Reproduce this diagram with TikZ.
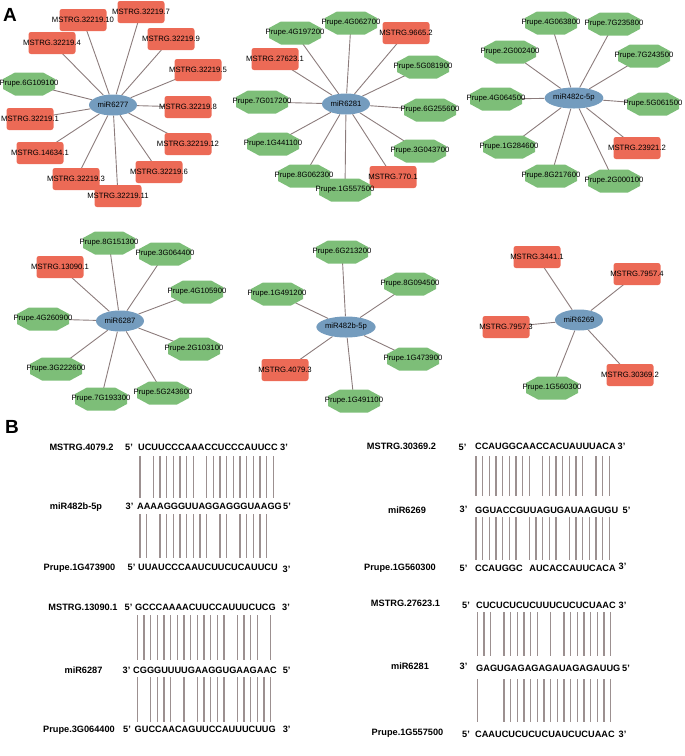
\documentclass[tikz,border=0pt]{standalone}
\usepackage{fontspec}
\setmainfont{Liberation Sans}
\usepackage{xcolor}
\definecolor{hubblue}{RGB}{116,156,190}
\definecolor{lncred}{RGB}{236,106,86}
\definecolor{genegreen}{RGB}{125,190,120}
\definecolor{linkgray}{RGB}{140,124,124}
\definecolor{pairgray}{RGB}{156,144,144}
\usepackage{tikz}
\usetikzlibrary{shapes.geometric, backgrounds}
\newcommand{\lbl}[1]{\makebox[0pt]{#1}}
\newcommand{\netfont}{\fontsize{7.7}{8}\selectfont}
\newcommand{\seqfont}{\fontsize{9.2}{10}\selectfont\bfseries}

\begin{document}
\begin{tikzpicture}[x=1pt, y=-1pt,
    hub/.style={ellipse, fill=hubblue, minimum width=48pt, minimum height=21pt, inner sep=0pt, font=\netfont},
    lnc/.style={rectangle, rounded corners=2.5pt, fill=lncred, minimum width=47pt, minimum height=22pt, inner sep=0pt, font=\netfont},
    gene/.style={rectangle, minimum width=52pt, minimum height=23pt, inner sep=0pt, font=\netfont,
        path picture={\fill[genegreen]
            ([xshift=12pt]path picture bounding box.north west) -- ([xshift=-12pt]path picture bounding box.north east)
            -- ([yshift=-6.5pt]path picture bounding box.north east) -- ([yshift=6.5pt]path picture bounding box.south east)
            -- ([xshift=-12pt]path picture bounding box.south east) -- ([xshift=12pt]path picture bounding box.south west)
            -- ([yshift=6.5pt]path picture bounding box.south west) -- ([yshift=-6.5pt]path picture bounding box.north west) -- cycle;}},
    link/.style={linkgray, line width=0.9pt},
    pair/.style={pairgray, line width=1.5pt},
    seq/.style={font=\seqfont, inner sep=0pt, text height=6.6pt, text depth=0pt, anchor=west},
    tag/.style={font=\seqfont, inner sep=0pt, text height=6.6pt, text depth=0pt},
    panel/.style={font=\fontsize{19}{20}\selectfont\bfseries, inner sep=0pt}]
    \useasboundingbox (0,0) rectangle (685,756);

    \node[panel] (pa) at (10,15) {A};

    % miR6277
    \node[hub] (m6277) at (113,105) {miR6277};
    \node[lnc] (s32219-10) at (83,20) {\lbl{MSTRG.32219.10}};
    \node[lnc] (s32219-7) at (141,12) {\lbl{MSTRG.32219.7}};
    \node[lnc] (s32219-4) at (52,43) {\lbl{MSTRG.32219.4}};
    \node[lnc] (s32219-9) at (171,39) {\lbl{MSTRG.32219.9}};
    \node[lnc] (s32219-5) at (198,70) {\lbl{MSTRG.32219.5}};
    \node[gene] (p6g109100) at (29,84) {\lbl{Prupe.6G109100}};
    \node[lnc] (s32219-8) at (188,107) {\lbl{MSTRG.32219.8}};
    \node[lnc] (s32219-1) at (30,119) {\lbl{MSTRG.32219.1}};
    \node[lnc] (s32219-12) at (188,144) {\lbl{MSTRG.32219.12}};
    \node[lnc] (s14634-1) at (40,153) {\lbl{MSTRG.14634.1}};
    \node[lnc] (s32219-6) at (159,172) {\lbl{MSTRG.32219.6}};
    \node[lnc] (s32219-3) at (76,179) {\lbl{MSTRG.32219.3}};
    \node[lnc] (s32219-11) at (118,196) {\lbl{MSTRG.32219.11}};

    % miR6281
    \node[hub] (m6281) at (346,104) {miR6281};
    \node[gene] (p4g197200) at (295,33) {\lbl{Prupe.4G197200}};
    \node[gene] (p4g062700) at (351,23) {\lbl{Prupe.4G062700}};
    \node[lnc] (s9665-2) at (406,33) {\lbl{MSTRG.9665.2}};
    \node[lnc] (s27623-1) at (275,59) {\lbl{MSTRG.27623.1}};
    \node[gene] (p5g081900) at (423,67) {\lbl{Prupe.5G081900}};
    \node[gene] (p7g017200) at (262,102) {\lbl{Prupe.7G017200}};
    \node[gene] (p6g255600) at (430,110) {\lbl{Prupe.6G255600}};
    \node[gene] (p1g441100) at (273,144) {\lbl{Prupe.1G441100}};
    \node[gene] (p3g043700) at (420,151) {\lbl{Prupe.3G043700}};
    \node[gene] (p8g062300) at (304,176) {\lbl{Prupe.8G062300}};
    \node[lnc] (s770-1) at (393,177) {\lbl{MSTRG.770.1}};
    \node[gene] (p1g557500) at (345,190) {\lbl{Prupe.1G557500}};

    % miR482c-5p
    \node[hub] (m482c) at (574,98) {miR482c-5p};
    \node[gene] (p4g063800) at (551,23) {\lbl{Prupe.4G063800}};
    \node[gene] (p7g235800) at (614,24) {\lbl{Prupe.7G235800}};
    \node[gene] (p2g002400) at (510,52) {\lbl{Prupe.2G002400}};
    \node[gene] (p7g243500) at (644,56) {\lbl{Prupe.7G243500}};
    \node[gene] (p4g064500) at (496,99) {\lbl{Prupe.4G064500}};
    \node[gene] (p5g061500) at (653,104) {\lbl{Prupe.5G061500}};
    \node[gene] (p1g284600) at (509,147) {\lbl{Prupe.1G284600}};
    \node[lnc] (s23921-2) at (637,148) {\lbl{MSTRG.23921.2}};
    \node[gene] (p8g217600) at (551,176) {\lbl{Prupe.8G217600}};
    \node[gene] (p2g000100) at (614,181) {\lbl{Prupe.2G000100}};

    % miR6287
    \node[hub] (m6287) at (120,321) {miR6287};
    \node[gene] (p8g151300) at (109,243) {\lbl{Prupe.8G151300}};
    \node[lnc] (s13090-1) at (60,267) {\lbl{MSTRG.13090.1}};
    \node[gene] (p3g064400) at (165,254) {\lbl{Prupe.3G064400}};
    \node[gene] (p4g105900) at (197,292) {\lbl{Prupe.4G105900}};
    \node[gene] (p4g260900) at (43,319) {\lbl{Prupe.4G260900}};
    \node[gene] (p2g103100) at (194,349) {\lbl{Prupe.2G103100}};
    \node[gene] (p3g222600) at (56,369) {\lbl{Prupe.3G222600}};
    \node[gene] (p5g243600) at (163,393) {\lbl{Prupe.5G243600}};
    \node[gene] (p7g193300) at (101,399) {\lbl{Prupe.7G193300}};

    % miR482b-5p
    \node[hub] (m482b) at (346,327) {miR482b-5p};
    \node[gene] (p6g213200) at (342,252) {\lbl{Prupe.6G213200}};
    \node[gene] (p1g491200) at (277,294) {\lbl{Prupe.1G491200}};
    \node[gene] (p8g094500) at (410,284) {\lbl{Prupe.8G094500}};
    \node[gene] (p1g473900) at (413,359) {\lbl{Prupe.1G473900}};
    \node[lnc] (s4079-3) at (285,370) {\lbl{MSTRG.4079.3}};
    \node[gene] (p1g491100) at (354,401) {\lbl{Prupe.1G491100}};

    % miR6269
    \node[hub] (m6269) at (579,320) {miR6269};
    \node[lnc] (s3441-1) at (537,257) {\lbl{MSTRG.3441.1}};
    \node[lnc] (s7957-4) at (637,274) {\lbl{MSTRG.7957.4}};
    \node[lnc] (s7957-3) at (506,327) {\lbl{MSTRG.7957.3}};
    \node[lnc] (s30369-2) at (630,375) {\lbl{MSTRG.30369.2}};
    \node[gene] (p1g560300) at (552,388) {\lbl{Prupe.1G560300}};

    \begin{pgfonlayer}{background}
        \foreach \t in {s32219-10, s32219-7, s32219-4, s32219-9, s32219-5, p6g109100, s32219-8, s32219-1, s32219-12, s14634-1, s32219-6, s32219-3, s32219-11}
            \draw[link] (m6277) -- (\t.center);
        \foreach \t in {p4g197200, p4g062700, s9665-2, s27623-1, p5g081900, p7g017200, p6g255600, p1g441100, p3g043700, p8g062300, s770-1, p1g557500}
            \draw[link] (m6281) -- (\t.center);
        \foreach \t in {p4g063800, p7g235800, p2g002400, p7g243500, p4g064500, p5g061500, p1g284600, s23921-2, p8g217600, p2g000100}
            \draw[link] (m482c) -- (\t.center);
        \foreach \t in {p8g151300, s13090-1, p3g064400, p4g105900, p4g260900, p2g103100, p3g222600, p5g243600, p7g193300}
            \draw[link] (m6287) -- (\t.center);
        \foreach \t in {p6g213200, p1g491200, p8g094500, p1g473900, s4079-3, p1g491100}
            \draw[link] (m482b) -- (\t.center);
        \foreach \t in {s3441-1, s7957-4, s7957-3, s30369-2, p1g560300}
            \draw[link] (m6269) -- (\t.center);
    \end{pgfonlayer}

    \node[panel] (pb) at (12,427) {B};

    % MSTRG.4079.2 / miR482b-5p / Prupe.1G473900
    \node[tag] (la1) at (81.5,447) {MSTRG.4079.2};
    \node[tag] (la1l) at (129,447) {5'};
    \node[seq] (la1s) at (138,447) {UCUUCCCAAACCUCCCAUUCC};
    \node[tag] (la1r) at (284,447) {3'};
    \node[tag] (la2) at (76,506) {miR482b-5p};
    \node[tag] (la2l) at (129.5,506) {3'};
    \node[seq] (la2s) at (137,506) {AAAAGGGUUAGGAGGGUAAGG};
    \node[tag] (la2r) at (287,506) {5'};
    \node[tag] (la3) at (79.5,567) {Prupe.1G473900};
    \node[tag] (la3l) at (131.5,567) {5'};
    \node[seq] (la3s) at (138,567) {UUAUCCCAAUCUUCUCAUUCU};
    \node[tag] (la3r) at (286.5,569) {3'};
    \foreach \i in {0,2,3,4,5,6,7,8,10,11,12,13,14,15,16,17,18,19,20}
        \draw[pair] (140+6.67*\i,456) -- (140+6.67*\i,498);
    \foreach \i in {0,1,3,4,5,6,7,8,9,10,12,13,15,16,17,18,19}
        \draw[pair] (140+6.67*\i,514) -- (140+6.67*\i,558);

    % MSTRG.13090.1 / miR6287 / Prupe.3G064400
    \node[tag] (lb1) at (83,607) {MSTRG.13090.1};
    \node[tag] (lb1l) at (128.5,607) {5'};
    \node[seq] (lb1s) at (135,607) {GCCCAAAACUUCCAUUUCUCG};
    \node[tag] (lb1r) at (286,607) {3'};
    \node[tag] (lb2) at (83.5,670) {miR6287};
    \node[tag] (lb2l) at (126.5,670) {3'};
    \node[seq] (lb2s) at (133,670) {CGGGUUUUGAAGGUGAAGAAC};
    \node[tag] (lb2r) at (286.7,670) {5'};
    \node[tag] (lb3) at (79,729) {Prupe.3G064400};
    \node[tag] (lb3l) at (127,729) {5'};
    \node[seq] (lb3s) at (134.5,729) {GUCCAACAGUUCCAUUUCUUG};
    \node[tag] (lb3r) at (286.7,729) {3'};
    \foreach \i in {0,1,2,3,4,5,6,7,8,9,10,11,12,13,15,16,17,18,20}
        \draw[pair] (137.3+6.67*\i,615) -- (137.3+6.67*\i,660);
    \foreach \i in {0,2,3,4,5,7,9,10,11,12,13,15,16,17,18,19,20}
        \draw[pair] (137.3+6.67*\i,677) -- (137.3+6.67*\i,722);

    % MSTRG.30369.2 / miR6269 / Prupe.1G560300
    \node[tag] (ra1) at (401.5,446) {MSTRG.30369.2};
    \node[tag] (ra1l) at (462.5,447) {5'};
    \node[seq] (ra1s) at (475,446) {CCAUGGCAACCACUAUUUACA};
    \node[tag] (ra1r) at (621.5,446) {3'};
    \node[tag] (ra2) at (407,510) {miR6269};
    \node[tag] (ra2l) at (463.5,509) {3'};
    \node[seq] (ra2s) at (475,510) {GGUACCGUUAGUGAUAAGUGU};
    \node[tag] (ra2r) at (626.5,510) {5'};
    \node[tag] (ra3) at (400,567) {Prupe.1G560300};
    \node[tag] (ra3l) at (463.5,568) {5'};
    \node[seq] (ra3s) at (475,568) {CCAUGGC\hspace{6.7pt}AUCACCAUUCACA};
    \node[tag] (ra3r) at (622.5,566) {3'};
    \foreach \i in {0,1,2,3,4,5,6,7,8,10,11,12,13,14,15,16,18,19,20}
        \draw[pair] (476+6.67*\i,456) -- (476+6.67*\i,496);
    \foreach \i in {0,1,2,3,4,5,6,8,9,10,11,12,14,15,16,17,18,19,20}
        \draw[pair] (476+6.67*\i,517) -- (476+6.67*\i,560);

    % MSTRG.27623.1 / miR6281 / Prupe.1G557500
    \node[tag] (rb1) at (405.5,603) {MSTRG.27623.1};
    \node[tag] (rb1l) at (466,605) {5'};
    \node[seq] (rb1s) at (476,605) {CUCUCUCUCUUUCUCUCUAAC};
    \node[tag] (rb1r) at (622.5,605) {3'};
    \node[tag] (rb2) at (410,666) {miR6281};
    \node[tag] (rb2l) at (463.5,666) {3'};
    \node[seq] (rb2s) at (476,668) {GAGUGAGAGAGAUAGAGAUUG};
    \node[tag] (rb2r) at (626,668) {5'};
    \node[tag] (rb3) at (407.5,732) {Prupe.1G557500};
    \node[tag] (rb3l) at (466,734) {5'};
    \node[seq] (rb3s) at (475,734) {CAAUCUCUCUCUAUCUCUAAC};
    \node[tag] (rb3r) at (622.5,734) {3'};
    \foreach \i in {0,1,2,4,5,6,7,8,9,11,13,14,15,16,17,18,19,20}
        \draw[pair] (477.3+6.67*\i,612) -- (477.3+6.67*\i,656);
    \foreach \i in {0,4,5,6,7,8,9,10,11,12,13,14,15,16,17,18,19,20}
        \draw[pair] (477.3+6.67*\i,679) -- (477.3+6.67*\i,722);
\end{tikzpicture}
\end{document}
